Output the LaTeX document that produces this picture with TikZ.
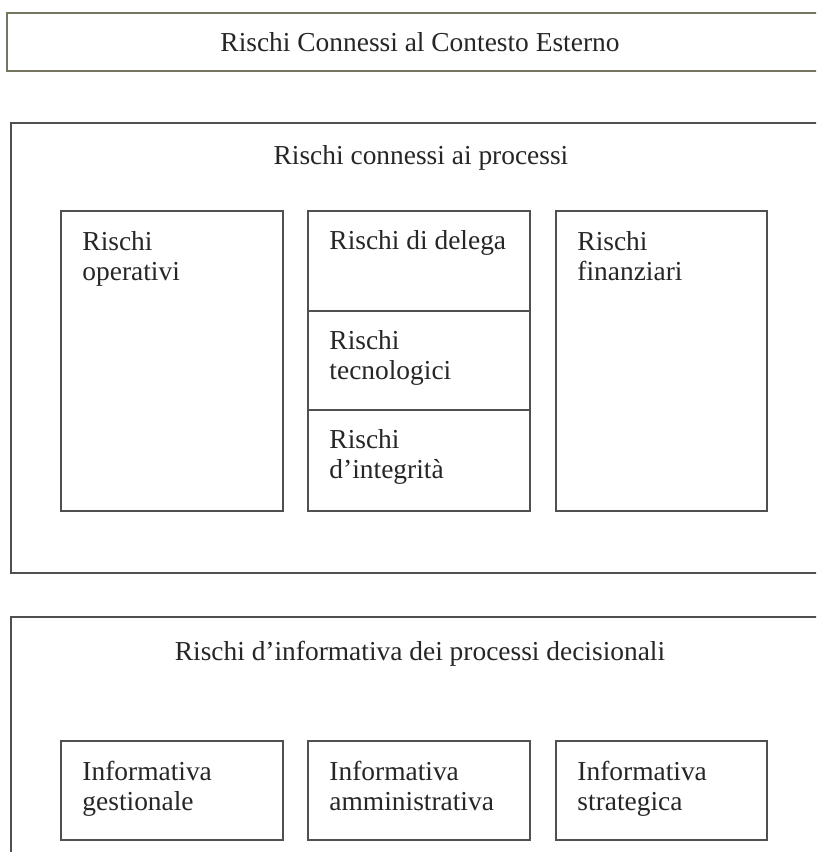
\documentclass[tikz,border=0pt]{standalone}
\usepackage{fontspec}
\setmainfont{Liberation Serif}
\usetikzlibrary{positioning}
\definecolor{boxgray}{RGB}{80,80,80}
\definecolor{olivegray}{RGB}{118,118,96}
\tikzset{
  every picture/.style={x=0.15mm, y=-0.15mm},
  riskbox/.style={draw=boxgray, line width=0.9pt},
  topbox/.style={draw=olivegray, line width=1.1pt},
  lbl/.style={inner sep=0pt, align=left, anchor=base west,
    text=black!85, font=\fontsize{11.7}{12.8}\selectfont},
  title/.style={lbl, anchor=base, align=center},
}

\begin{document}
\begin{tikzpicture}
  \clip (0,0) rectangle (816,852);
  \fill[white] (0,0) rectangle (816,852);

  % external context
  \draw[topbox] (7,13) rectangle (840,71);
  \node[title] (esterno) at (420,52) {Rischi Connessi al Contesto Esterno};

  % processes
  \draw[riskbox] (11,123) rectangle (840,573);
  \node[title] (processi) at (421,165) {Rischi connessi ai processi};

  \draw[riskbox] (61,211) rectangle (283,511);
  \node[lbl] (operativi) at (82,280) {Rischi\\operativi};

  \draw[riskbox] (308,211) rectangle (530,511);
  \draw[riskbox] (308,311) -- (530,311);
  \draw[riskbox] (308,410) -- (530,410);
  \node[lbl] (delega) at (329,250) {Rischi di delega};
  \node[lbl] (tecnologici) at (329,379) {Rischi\\tecnologici};
  \node[lbl] (integrita) at (329,478) {Rischi\\d’integrità};

  \draw[riskbox] (556,211) rectangle (767,511);
  \node[lbl] (finanziari) at (577,280) {Rischi\\finanziari};

  % decision information
  \draw[riskbox] (11,617) rectangle (840,880);
  \node[title] (decisionali) at (420,660) {Rischi d’informativa dei processi decisionali};

  \draw[riskbox] (61,741) rectangle (283,840);
  \node[lbl] (gestionale) at (82,810) {Informativa\\gestionale};
  \draw[riskbox] (308,741) rectangle (530,840);
  \node[lbl] (amministrativa) at (329,810) {Informativa\\amministrativa};
  \draw[riskbox] (556,741) rectangle (767,840);
  \node[lbl] (strategica) at (577,810) {Informativa\\strategica};
\end{tikzpicture}
\end{document}
